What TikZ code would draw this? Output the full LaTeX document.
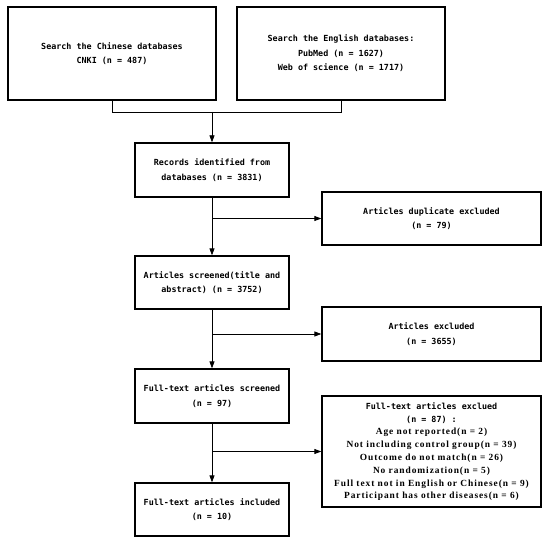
\documentclass[tikz,border=0pt]{standalone}
\usepackage{fontspec}
\setmonofont{DejaVu Sans Mono}
\setmainfont{Liberation Serif}
\newfontfamily\listfont[LetterSpace=10]{Liberation Serif}
\usetikzlibrary{arrows.meta}
\begin{document}
\begin{tikzpicture}[x=1pt,y=-1pt,
  box/.style={draw=black, line width=1.3pt, inner sep=2pt, align=center,
    font=\ttfamily\bfseries\fontsize{8.4}{14.5}\selectfont},
  lst/.style={},
  arr/.style={line width=0.8pt, -{Triangle[length=7pt,width=5pt]}},
  ln/.style={line width=0.8pt}]
\useasboundingbox (0,0) rectangle (550,543);
\fill[white] (0,0) rectangle (550,543);
\node[box, minimum width=208pt, minimum height=93pt] (A) at (112,53.5) {Search the Chinese databases\\CNKI (n = 487)};
\node[box, minimum width=208pt, minimum height=93pt] (B) at (341,53.5) {Search the English databases:\\PubMed (n = 1627)\\Web of science (n = 1717)};
\node[box, minimum width=154pt, minimum height=54pt] (C) at (212,170) {Records identified from\\databases (n = 3831)};
\node[box, minimum width=219pt, minimum height=53pt] (D) at (431.5,218.5) {Articles duplicate excluded\\(n = 79)};
\node[box, minimum width=154pt, minimum height=53pt] (E) at (212,282.5) {Articles screened(title and\\abstract) (n = 3752)};
\node[box, minimum width=219pt, minimum height=54pt] (F) at (431.5,334) {Articles excluded\\(n = 3655)};
\node[box, minimum width=154pt, minimum height=54pt] (G) at (212,396) {Full-text articles screened\\(n = 97)};
\node[box, minimum width=219pt, minimum height=111pt] (H) at (431.5,451.5) {\fontsize{8.4}{12.8}\selectfont
\begin{tabular}{@{}c@{}}Full-text articles exclued\\(n = 87) :\\
{\listfont\bfseries\fontsize{9.4}{12.8}\selectfont Age not reported(n = 2)}\\
{\listfont\bfseries\fontsize{9.4}{12.8}\selectfont Not including control group(n = 39)}\\
{\listfont\bfseries\fontsize{9.4}{12.8}\selectfont Outcome do not match(n = 26)}\\
{\listfont\bfseries\fontsize{9.4}{12.8}\selectfont No randomization(n = 5)}\\
{\listfont\bfseries\fontsize{9.4}{12.8}\selectfont Full text not in English or Chinese(n = 9)}\\
{\listfont\bfseries\fontsize{9.4}{12.8}\selectfont Participant has other diseases(n = 6)}\end{tabular}};
\node[box, minimum width=154pt, minimum height=53pt] (I) at (212,509.5) {Full-text articles included\\(n = 10)};
\coordinate (j) at (212,112);
\draw[ln] (A.south) -- (A.south |- j) -- (B.south |- j) -- (B.south);
\draw[arr] (j) -- (C.north);
\draw[arr] (C.south) -- (E.north);
\draw[arr] (C.south |- D.west) -- (D.west);
\draw[arr] (E.south) -- (G.north);
\draw[arr] (E.south |- F.west) -- (F.west);
\draw[arr] (G.south) -- (I.north);
\draw[arr] (G.south |- H.west) -- (H.west);
\end{tikzpicture}
\end{document}
